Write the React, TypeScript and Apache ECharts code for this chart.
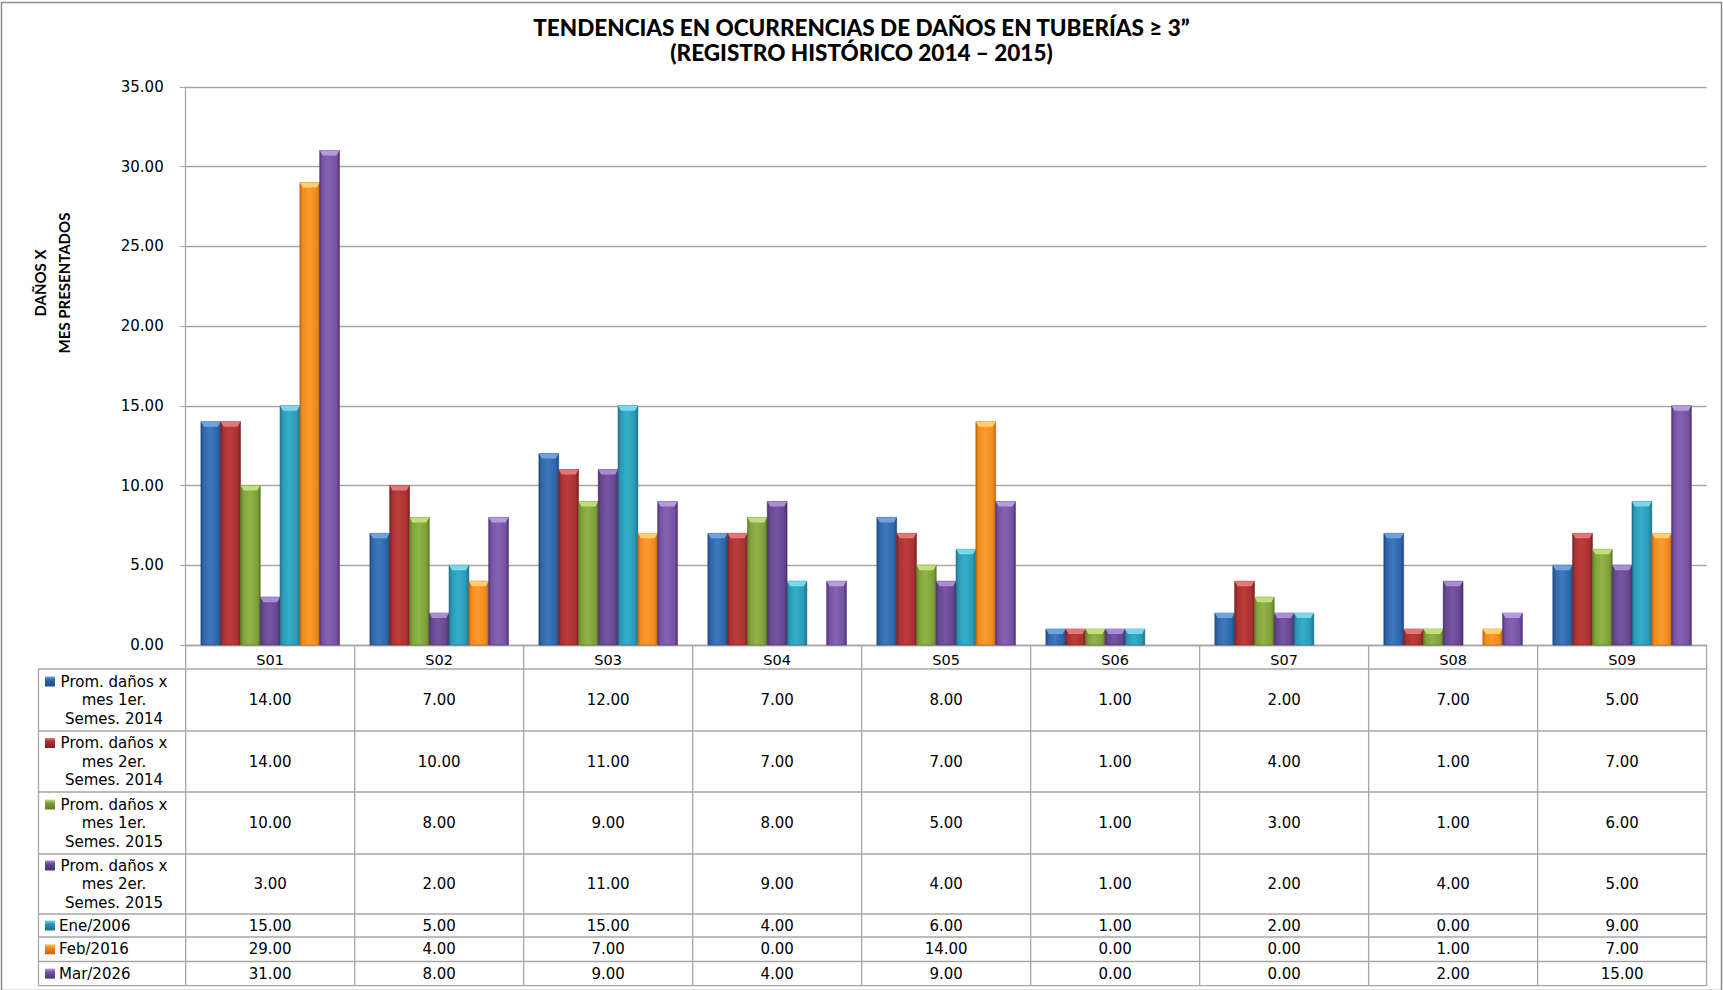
import React, { useEffect, useRef } from "react";
import * as echarts from "echarts";

const categories = ["S01", "S02", "S03", "S04", "S05", "S06", "S07", "S08", "S09"];
const seriesNames = [
  "Prom. daños x\nmes 1er.\nSemes. 2014",
  "Prom. daños x\nmes 2er.\nSemes. 2014",
  "Prom. daños x\nmes 1er.\nSemes. 2015",
  "Prom. daños x\nmes 2er.\nSemes. 2015",
  "Ene/2006",
  "Feb/2016",
  "Mar/2026",
];
const s1 = [14, 7, 12, 7, 8, 1, 2, 7, 5];
const s2 = [14, 10, 11, 7, 7, 1, 4, 1, 7];
const s3 = [10, 8, 9, 8, 5, 1, 3, 1, 6];
const s4 = [3, 2, 11, 9, 4, 1, 2, 4, 5];
const s5 = [15, 5, 15, 4, 6, 1, 2, 0, 9];
const s6 = [29, 4, 7, 0, 14, 0, 0, 1, 7];
const s7 = [31, 8, 9, 4, 9, 0, 0, 2, 15];
const seriesData = [s1, s2, s3, s4, s5, s6, s7];
const yTicks = { min: 0, max: 35, interval: 5 };

// [dark edge, base, light, cap]
const palette = [
  ["#1d4a85", "#2f65a8", "#3f78bf", "#6fa3e0"],
  ["#7e2020", "#a83232", "#bd3c3a", "#e07a78"],
  ["#5c7a25", "#7fa03a", "#90b448", "#bfe07a"],
  ["#45306a", "#66468f", "#7656a3", "#a98bd6"],
  ["#1b7088", "#2b98b5", "#35aecb", "#7ad8ee"],
  ["#c0650c", "#f08a1e", "#f99b30", "#ffd070"],
  ["#4e3478", "#7552a2", "#8562b3", "#b79be0"],
];

const W = 1723;
const H = 990;
const gridLeft = 185.7;
const gridRight = 1706.6;
const gridTop = 86.8;
const gridBottom = 645;
const tableLeft = 38.5;
const rowLines = [669, 731, 792, 854, 914, 937, 961.5, 985.7];
const FONT = "DejaVu Sans";
const NARROW = "Lato";

export default function App() {
  const ref = useRef<HTMLDivElement>(null);
  useEffect(() => {
    if (!ref.current) return;
    const chart = echarts.init(ref.current, undefined, { renderer: "svg" });

    const nCat = categories.length;
    const colW = (gridRight - gridLeft) / nCat;
    const graphics: any[] = [];
    const lineStyle = { stroke: "#a6a6a6", lineWidth: 1.3 };
    // outer frame
    graphics.push({
      type: "rect",
      shape: { x: 1.5, y: 2.5, width: W - 3, height: H - 2 },
      style: { fill: "none", stroke: "#8c8c8c", lineWidth: 1.5 },
      silent: true,
    });
    rowLines.forEach((y) => {
      graphics.push({
        type: "line",
        shape: { x1: tableLeft, y1: y, x2: gridRight, y2: y },
        style: lineStyle,
        silent: true,
      });
    });
    graphics.push({
      type: "line",
      shape: { x1: tableLeft, y1: rowLines[0], x2: tableLeft, y2: rowLines[rowLines.length - 1] },
      style: lineStyle,
      silent: true,
    });
    for (let i = 0; i <= nCat; i++) {
      const x = gridLeft + i * colW;
      graphics.push({
        type: "line",
        shape: { x1: x, y1: gridBottom, x2: x, y2: rowLines[rowLines.length - 1] },
        style: lineStyle,
        silent: true,
      });
    }
    seriesNames.forEach((name, r) => {
      const y0 = rowLines[r];
      const y1 = rowLines[r + 1];
      const cy = (y0 + y1) / 2;
      const lines = name.split("\n");
      const lh = 18.5;
      const firstY = lines.length > 1 ? cy - lh : cy;
      graphics.push({
        type: "rect",
        shape: { x: 45, y: firstY - 5, width: 10, height: 10 },
        style: {
          fill: new echarts.graphic.LinearGradient(0, 0, 0, 1, [
            { offset: 0, color: palette[r][3] },
            { offset: 0.35, color: palette[r][1] },
            { offset: 1, color: palette[r][0] },
          ]),
        },
        silent: true,
      });
      if (lines.length > 1) {
        lines.forEach((ln, k) => {
          graphics.push({
            type: "text",
            x: 114,
            y: cy + (k - 1) * lh,
            style: {
              text: ln,
              font: `15px "${FONT}"`,
              fill: "#000",
              align: "center",
              verticalAlign: "middle",
            },
            silent: true,
          });
        });
      } else {
        graphics.push({
          type: "text",
          x: 59,
          y: cy,
          style: {
            text: name,
            font: `15px "${FONT}"`,
            fill: "#000",
            align: "left",
            verticalAlign: "middle",
          },
          silent: true,
        });
      }
      seriesData[r].forEach((v, c) => {
        graphics.push({
          type: "text",
          x: gridLeft + (c + 0.5) * colW,
          y: cy,
          style: {
            text: v.toFixed(2),
            font: `15px "${FONT}"`,
            fill: "#000",
            align: "center",
            verticalAlign: "middle",
          },
          silent: true,
        });
      });
    });
    graphics.push({
      type: "text",
      x: 52,
      y: 283,
      rotation: Math.PI / 2,
      style: {
        text: "DAÑOS X\nMES PRESENTADOS",
        font: `bold 15px "${NARROW}"`,
        fill: "#000",
        align: "center",
        verticalAlign: "middle",
        lineHeight: 24,
      },
      silent: true,
    });

    const makeSeries = (idx: number) => ({
      type: "custom",
      name: seriesNames[idx],
      data: seriesData[idx].map((v, c) => [c, v]),
      encode: { x: 0, y: 1 },
      renderItem: (params: any, api: any) => {
        const ci = api.value(0);
        const v = api.value(1);
        if (!v) return null;
        const base = api.coord([ci, 0]);
        const top = api.coord([ci, v]);
        const band = api.size([1, 0])[0];
        const groupW = band * 0.82;
        const bw = groupW / 7;
        const x = base[0] - groupW / 2 + idx * bw;
        const p = palette[idx];
        const h = base[1] - top[1];
        const cap = Math.min(5, h);
        return {
          type: "group",
          children: [
            {
              type: "rect",
              shape: { x: x, y: top[1], width: bw, height: h },
              style: {
                fill: new echarts.graphic.LinearGradient(0, 0, 1, 0, [
                  { offset: 0, color: p[0] },
                  { offset: 0.12, color: p[1] },
                  { offset: 0.45, color: p[2] },
                  { offset: 0.85, color: p[1] },
                  { offset: 1, color: p[0] },
                ]),
                stroke: p[0],
                lineWidth: 0.6,
              },
            },
            {
              type: "polygon",
              shape: {
                points: [
                  [x, top[1]],
                  [x + bw, top[1]],
                  [x + bw - 3, top[1] + cap],
                  [x + 3, top[1] + cap],
                ],
              },
              style: { fill: p[3] },
            },
          ],
        };
      },
    });

    chart.setOption({
      animation: false,
      title: {
        text: "TENDENCIAS EN OCURRENCIAS DE DAÑOS EN TUBERÍAS ≥ 3”\n(REGISTRO HISTÓRICO 2014 – 2015)",
        left: "center",
        top: 10,
        textStyle: {
          fontFamily: NARROW,
          fontWeight: 900,
          fontSize: 22.5,
          lineHeight: 25,
          color: "#000",
        },
      },
      grid: {
        left: gridLeft,
        right: W - gridRight,
        top: gridTop,
        bottom: H - gridBottom,
        containLabel: false,
      },
      xAxis: {
        type: "category",
        data: categories,
        axisLine: { show: true, lineStyle: { color: "#a6a6a6", width: 1.3 } },
        axisTick: { show: false },
        axisLabel: {
          margin: 7,
          fontFamily: FONT,
          fontSize: 14.5,
          color: "#000",
        },
      },
      yAxis: {
        type: "value",
        min: yTicks.min,
        max: yTicks.max,
        interval: yTicks.interval,
        axisLine: { show: true, lineStyle: { color: "#a6a6a6", width: 1.3 } },
        axisTick: { show: true, length: 6, lineStyle: { color: "#a6a6a6" } },
        splitLine: { show: true, lineStyle: { color: "#a6a6a6", width: 1.3 } },
        axisLabel: {
          margin: 22,
          fontFamily: FONT,
          fontSize: 15,
          color: "#000",
          formatter: (v: number) => v.toFixed(2),
        },
      },
      series: seriesData.map((_, i) => makeSeries(i)),
      graphic: graphics,
    });
    return () => chart.dispose();
  }, []);
  return <div ref={ref} style={{ width: W, height: H, position: "absolute", left: 0, top: 0 }} />;
}
